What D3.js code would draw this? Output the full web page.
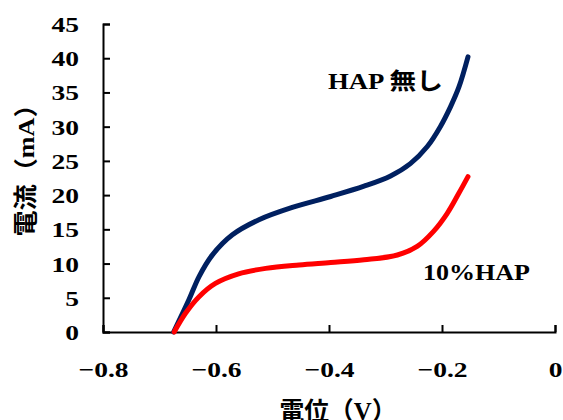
<!DOCTYPE html>
<html><head><meta charset="utf-8">
<script src="https://cdn.jsdelivr.net/npm/d3@7"></script>
<style>body{margin:0;background:#fff}</style>
</head><body>
<svg id="c" width="563" height="420"></svg>
<script>
const xTicks = [-0.8, -0.6, -0.4, -0.2, 0];
const yTicks = [0, 5, 10, 15, 20, 25, 30, 35, 40, 45];
const noHapV = [-0.675, -0.648, -0.630, -0.607, -0.571, -0.524, -0.465, -0.397, -0.338, -0.291, -0.256, -0.226, -0.203, -0.185, -0.170, -0.154];
const noHapI = [0, 4.7, 8.1, 11.2, 14.2, 16.4, 18.2, 19.8, 21.3, 22.8, 24.6, 27.1, 30.0, 32.9, 35.8, 40.2];
const hapV = [-0.674, -0.654, -0.630, -0.601, -0.560, -0.512, -0.453, -0.397, -0.338, -0.279, -0.244, -0.215, -0.191, -0.170, -0.154];
const hapI = [0, 2.73, 5.16, 7.1, 8.5, 9.3, 9.8, 10.15, 10.55, 11.25, 12.5, 14.7, 17.3, 20.3, 22.7];

const svg = d3.select("#c");
const x = d3.scaleLinear().domain([-0.8, 0]).range([103, 555]);
const y = d3.scaleLinear().domain([0, 45]).range([332, 24]);
const font = "'Liberation Serif','Times New Roman',serif";
const cjk = "'Liberation Serif','Noto Sans CJK JP',serif";

function stretch(sel, k) {
  sel.each(function () {
    const len = this.getComputedTextLength();
    d3.select(this).attr("textLength", len * k).attr("lengthAdjust", "spacingAndGlyphs");
  });
}

const xAxis = svg.append("g").attr("transform", "translate(0,332)")
  .call(d3.axisBottom(x).tickValues(xTicks).tickSize(-7).tickSizeOuter(-7).tickPadding(0)
    .tickFormat(d => d === 0 ? "0" : d3.format(".1f")(d).replace("-", "\u2212")));
xAxis.attr("font-family", null).attr("font-size", null);
xAxis.select(".domain").attr("stroke", "#000").attr("stroke-width", 2);
xAxis.selectAll(".tick line").attr("stroke", "#000").attr("stroke-width", 2);
xAxis.selectAll(".tick text").attr("y", 45).attr("dy", 0)
  .style("font-family", font).style("font-weight", "bold").style("font-size", "22px").attr("fill", "#000")
  .call(stretch, 1.25);

const yAxis = svg.append("g").attr("transform", "translate(103,0)")
  .call(d3.axisLeft(y).tickValues(yTicks).tickSize(-7).tickSizeOuter(-7).tickPadding(0));
yAxis.attr("font-family", null).attr("font-size", null);
yAxis.select(".domain").attr("stroke", "#000").attr("stroke-width", 2);
yAxis.selectAll(".tick line").attr("stroke", "#000").attr("stroke-width", 2);
yAxis.selectAll(".tick text").attr("x", -24).attr("dy", "0.34em")
  .style("font-family", font).style("font-weight", "bold").style("font-size", "22px").attr("fill", "#000")
  .call(stretch, 1.25);

const line = d3.line().x(d => x(d[0])).y(d => y(d[1])).curve(d3.curveCatmullRom.alpha(0.5));
svg.append("path").datum(noHapV.map((v, i) => [v, noHapI[i]]))
  .attr("d", line).attr("fill", "none").attr("stroke", "#002060").attr("stroke-width", 5).attr("stroke-linecap", "round");
svg.append("path").datum(hapV.map((v, i) => [v, hapI[i]]))
  .attr("d", line).attr("fill", "none").attr("stroke", "#ff0000").attr("stroke-width", 5).attr("stroke-linecap", "round");

svg.append("text").attr("x", 328).attr("y", 89)
  .style("font-family", cjk).style("font-weight", "bold").style("font-size", "23px").attr("fill", "#000")
  .attr("textLength", 115).attr("lengthAdjust", "spacingAndGlyphs").text("HAP 無し");
svg.append("text").attr("x", 423).attr("y", 280)
  .style("font-family", font).style("font-weight", "bold").style("font-size", "24px").attr("fill", "#000")
  .attr("textLength", 107).attr("lengthAdjust", "spacingAndGlyphs").text("10%HAP");

svg.append("text").attr("transform", "translate(34,164) rotate(-90)").attr("text-anchor", "middle")
  .style("font-family", cjk).style("font-weight", "bold").style("font-size", "24px").attr("fill", "#000")
  .attr("textLength", 145).attr("lengthAdjust", "spacingAndGlyphs")
  .text("電流（mA）");
svg.append("text").attr("x", 338).attr("y", 420).attr("text-anchor", "middle")
  .style("font-family", cjk).style("font-weight", "bold").style("font-size", "25px").attr("fill", "#000")
  .attr("textLength", 117).attr("lengthAdjust", "spacingAndGlyphs")
  .text("電位（V）");
</script>
</body></html>
